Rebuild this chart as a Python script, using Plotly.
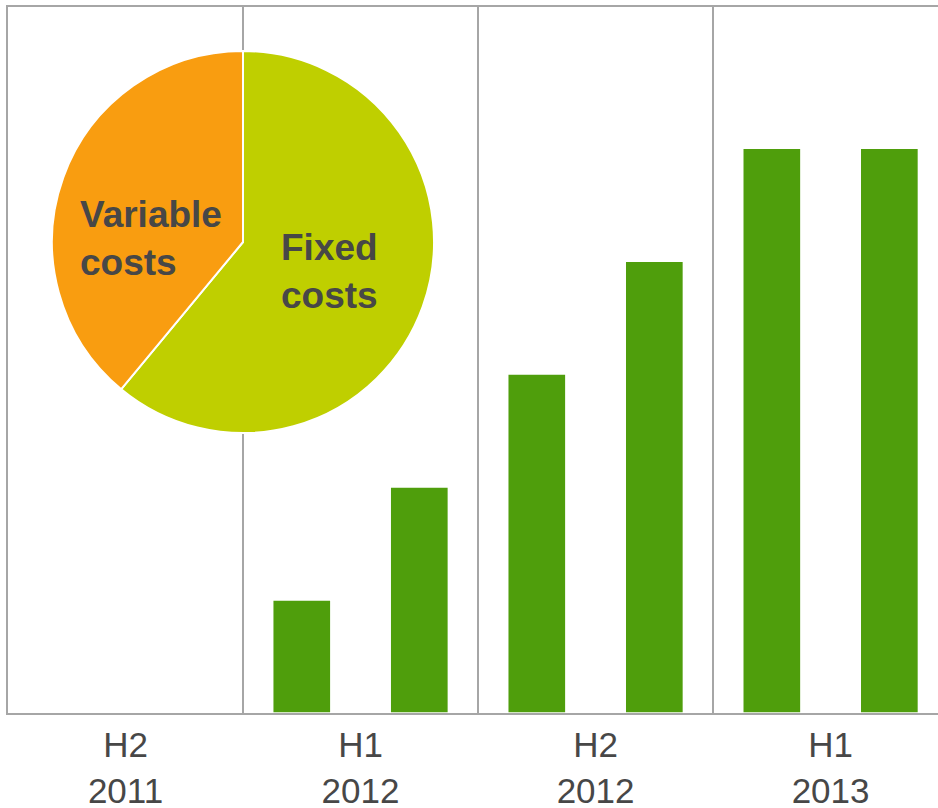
import plotly.graph_objects as go

# Half-year periods along the x axis
periods = ["H2<br>2011", "H1<br>2012", "H2<br>2012", "H1<br>2013"]
# Two bars per period (no bars for the first period)
first_bar = [None, 1, 3, 5]
second_bar = [None, 2, 4, 5]

# Cost split shown in the pie (fixed runs clockwise from 12 o'clock)
cost_labels = ["Fixed<br>costs", "Variable<br>costs"]
cost_shares = [61, 39]
cost_colors = ["#BFCF00", "#F99D10"]
# Where each slice's label sits (paper coordinates)
label_pos = [(0.3452, 0.626), (0.1538, 0.6728)]

BAR_GREEN = "#4F9E0C"
GRID_GREY = "#A6A6A6"
TEXT_GREY = "#474747"
FONT = "Liberation Sans, Arial, sans-serif"

idx = list(range(len(periods)))

fig = go.Figure()
for vals in (first_bar, second_bar):
    fig.add_trace(go.Bar(
        x=idx, y=vals,
        marker=dict(color=BAR_GREEN, line=dict(color="white", width=1.5)),
        showlegend=False, hoverinfo="skip",
    ))

fig.add_trace(go.Pie(
    labels=cost_labels, values=cost_shares,
    sort=False, direction="clockwise", rotation=0,
    marker=dict(colors=cost_colors, line=dict(color="white", width=2)),
    textinfo="none",
    domain=dict(x=[0.0473, 0.4581], y=[0.3966, 0.9377]),
    showlegend=False, hoverinfo="skip",
))

for text, (px, py) in zip(cost_labels, label_pos):
    fig.add_annotation(
        x=px, y=py, xref="paper", yref="paper",
        text=f"<b>{text}</b>", showarrow=False, align="left",
        xanchor="center", yanchor="middle",
        font=dict(family=FONT, size=37, color=TEXT_GREY),
    )

fig.update_layout(
    width=938, height=808,
    margin=dict(l=8, r=0, t=7, b=95),
    paper_bgcolor="white", plot_bgcolor="white",
    barmode="group", bargap=0, bargroupgap=0.505,
    xaxis=dict(
        range=[-0.5, 3.457], automargin=False,
        tickvals=idx, ticktext=periods,
        tickfont=dict(family=FONT, size=35, color=TEXT_GREY),
        ticks="", showgrid=False, zeroline=False,
        showline=True, mirror=True, linecolor=GRID_GREY, linewidth=2,
        minor=dict(tick0=0.5, dtick=1, showgrid=True,
                   gridcolor=GRID_GREY, gridwidth=2, ticks=""),
        layer="below traces", fixedrange=True,
    ),
    yaxis=dict(
        range=[0, 6.25], showticklabels=False, ticks="", automargin=False,
        showgrid=False, zeroline=False,
        showline=True, linecolor=GRID_GREY, linewidth=2,
        layer="below traces", fixedrange=True,
    ),
)

fig.write_html("out.html")
